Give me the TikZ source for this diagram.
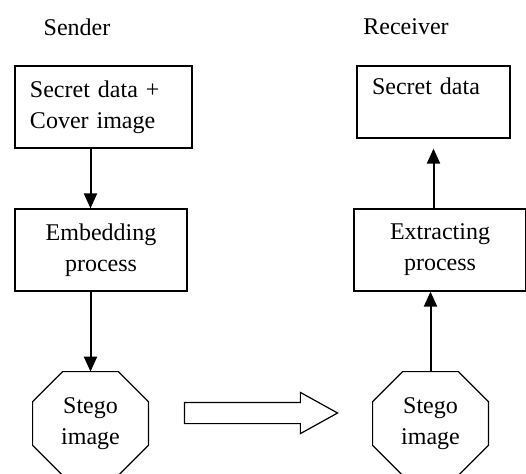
\documentclass[tikz,border=0pt]{standalone}
\usepackage{fontspec}
\setmainfont{Liberation Serif}
\usetikzlibrary{arrows.meta,positioning,shapes.arrows}

\begin{document}
\begin{tikzpicture}[>={Triangle[length=7.5pt,width=6.5pt]}, node distance=71.5pt, x=1pt, y=1pt]
  \tikzstyle{every node}=[font=\fontsize{12}{15.5}\selectfont, inner sep=0pt]
  \tikzstyle{box}=[draw, line width=0.6pt, minimum height=41pt]
  \tikzstyle{stego}=[minimum width=57.5pt, minimum height=51.5pt, align=center]
  \tikzstyle{flow}=[->, line width=1pt]

  \useasboundingbox (0,0) rectangle (263,-236.5);

  %% Sender
  \node (sender) at (38.5,-13.5) {Sender};
  \node[box, text width=73.5pt, inner xsep=7.5pt, align=left] (cover) at (51.75,-53.5) {Secret data +\\Cover image};
  \node[box, minimum width=86pt, align=center] (embed) [below of=cover, xshift=-1.25pt] {Embedding\\process};
  \node[stego] (stegoL) [below of=embed, xshift=-5.25pt, yshift=-15.25pt] {Stego\\image};

  %% Receiver
  \node (receiver) at (203,-13.5) {Receiver};
  \node[box, minimum height=36pt, text width=61.5pt, inner xsep=7.5pt, align=left] (secret) at (216.75,-51) {Secret data\\\mbox{}};
  \node[box, minimum width=86pt, align=center] (extract) at (220,-125) {Extracting\\process};
  \node[stego] (stegoR) [below of=extract, xshift=-4.75pt, yshift=-15.25pt] {Stego\\image};

  %% Octagon outlines
  \foreach \n in {stegoL,stegoR}
    \draw[line width=0.6pt] ([xshift=15pt]\n.north west) -- ([xshift=-15pt]\n.north east)
      -- ([yshift=-15pt]\n.north east) -- ([yshift=15pt]\n.south east)
      -- ([xshift=-15pt]\n.south east) -- ([xshift=15pt]\n.south west)
      -- ([yshift=15pt]\n.south west) -- ([yshift=-15pt]\n.north west) -- cycle;

  %% Transfer
  \node[single arrow, draw, line width=0.6pt, inner xsep=0pt, inner ysep=5pt, minimum height=76.5pt, single arrow head extend=5pt, single arrow tip angle=58] (transfer) at (125.75,-206.5) {};

  %% Flow arrows
  \draw[flow] (cover.south -| stegoL) -- (embed.north -| stegoL);
  \draw[flow] (embed.south -| stegoL) -- (stegoL.north);
  \draw[flow] (stegoR.north) -- (extract.south -| stegoR);
  \draw[flow, shorten >=5pt] (extract.north -| secret) -- (secret.south);
\end{tikzpicture}
\end{document}
